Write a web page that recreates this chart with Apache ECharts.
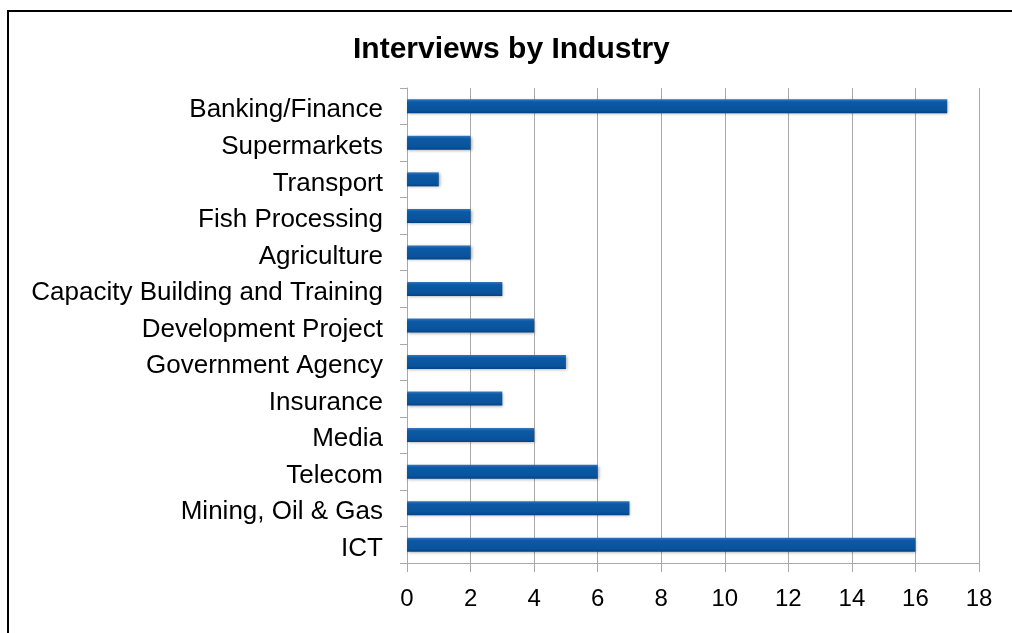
<!DOCTYPE html>
<html>
<head>
<meta charset="utf-8">
<script src="https://cdn.jsdelivr.net/npm/echarts@6/dist/echarts.min.js"></script>
<style>
  html, body { margin: 0; padding: 0; background: #ffffff; }
  #chart { width: 1012px; height: 633px; }
</style>
</head>
<body>
<div id="chart"></div>
<script>
// Interviews counted per industry, listed top to bottom
const industries = [
  'Banking/Finance', 'Supermarkets', 'Transport', 'Fish Processing', 'Agriculture',
  'Capacity Building and Training', 'Development Project', 'Government Agency',
  'Insurance', 'Media', 'Telecom', 'Mining, Oil & Gas', 'ICT'
];
const interviews = [17, 2, 1, 2, 2, 3, 4, 5, 3, 4, 6, 7, 16];
const xTicks = [0, 2, 4, 6, 8, 10, 12, 14, 16, 18];

const FONT = '"Liberation Sans", Arial, Helvetica, sans-serif';
const GRID_GREY = '#a9a9a9';

const chart = echarts.init(document.getElementById('chart'), null, { renderer: 'canvas' });

chart.setOption({
  animation: false,
  backgroundColor: '#ffffff',
  title: {
    text: 'Interviews by Industry',
    left: 353,
    top: 35,
    padding: 0,
    textStyle: { fontFamily: FONT, fontSize: 30, fontWeight: 'bold', color: '#000' }
  },
  graphic: [{
    type: 'rect',
    z: -1,
    shape: { x: 8, y: 11, width: 1100, height: 700 },
    style: { fill: 'none', stroke: '#000', lineWidth: 2 }
  }],
  grid: { left: 407, right: 33, top: 88, bottom: 70, containLabel: false },
  xAxis: {
    type: 'value',
    min: xTicks[0],
    max: xTicks[xTicks.length - 1],
    interval: xTicks[1] - xTicks[0],
    axisLine: { show: true, lineStyle: { color: GRID_GREY, width: 1 } },
    axisTick: { show: true, length: 9, lineStyle: { color: GRID_GREY, width: 1 } },
    splitLine: { show: true, lineStyle: { color: GRID_GREY, width: 1 } },
    axisLabel: { fontFamily: FONT, fontSize: 24, color: '#000', margin: 24 }
  },
  yAxis: {
    type: 'category',
    inverse: true,
    data: industries,
    axisLine: { show: true, lineStyle: { color: GRID_GREY, width: 1 } },
    axisTick: { show: true, length: 7, lineStyle: { color: GRID_GREY, width: 1 } },
    axisLabel: {
      margin: 24,
      formatter: '{name|{value}}',
      rich: {
        name: {
          fontFamily: FONT, fontSize: 26, color: '#000',
          padding: [8, 0, 0, 0]
        }
      }
    }
  },
  series: [{
    type: 'bar',
    data: interviews,
    barWidth: 14,
    itemStyle: {
      color: new echarts.graphic.LinearGradient(0, 0, 0, 1, [
        { offset: 0, color: '#3576bb' },
        { offset: 0.2, color: '#0c59a5' },
        { offset: 0.8, color: '#09539b' },
        { offset: 1, color: '#004387' }
      ]),
      shadowColor: 'rgba(0,0,0,0.35)',
      shadowBlur: 3,
      shadowOffsetX: 1,
      shadowOffsetY: 1
    }
  }]
});
</script>
</body>
</html>
